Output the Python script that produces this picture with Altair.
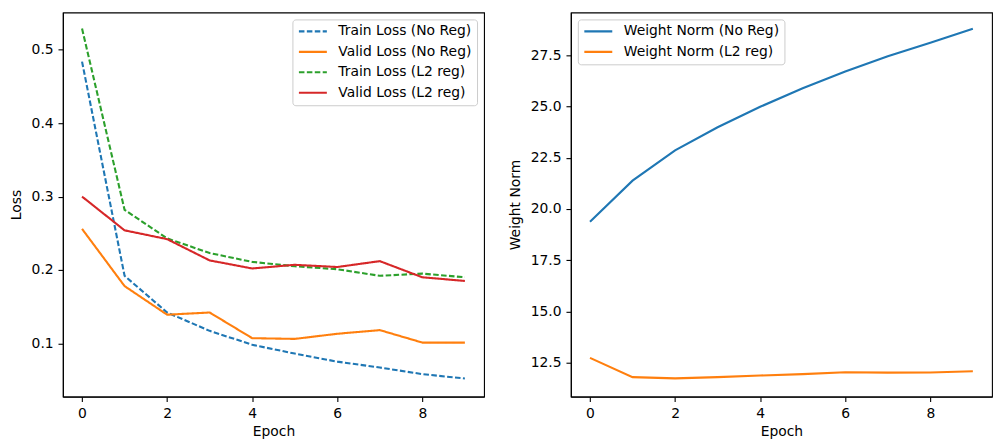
import altair as alt
import pandas as pd

epochs = list(range(10))

train_noreg = [0.484, 0.192, 0.142, 0.117, 0.098, 0.086, 0.075, 0.067, 0.058, 0.052]
valid_noreg = [0.256, 0.178, 0.139, 0.142, 0.107, 0.106, 0.113, 0.118, 0.101, 0.101]
train_l2 = [0.529, 0.282, 0.243, 0.223, 0.211, 0.205, 0.201, 0.192, 0.195, 0.190]
valid_l2 = [0.300, 0.254, 0.242, 0.213, 0.202, 0.207, 0.204, 0.212, 0.190, 0.185]

wnorm_noreg = [19.38, 21.38, 22.86, 23.98, 24.98, 25.88, 26.70, 27.44, 28.10, 28.78]
wnorm_l2 = [12.74, 11.80, 11.74, 11.80, 11.88, 11.95, 12.04, 12.02, 12.03, 12.09]

loss_names = ["Train Loss (No Reg)", "Valid Loss (No Reg)", "Train Loss (L2 reg)", "Valid Loss (L2 reg)"]
loss_series = [train_noreg, valid_noreg, train_l2, valid_l2]
loss_colors = ["#1f77b4", "#ff7f0e", "#2ca02c", "#d62728"]
loss_dashes = [[5.55, 2.4], [1, 0], [5.55, 2.4], [1, 0]]

norm_names = ["Weight Norm (No Reg)", "Weight Norm (L2 reg)"]
norm_series = [wnorm_noreg, wnorm_l2]
norm_colors = ["#1f77b4", "#ff7f0e"]

loss_df = pd.DataFrame([
    {"epoch": e, "value": v, "series": n, "order": i}
    for i, (n, s) in enumerate(zip(loss_names, loss_series))
    for e, v in zip(epochs, s)
])
norm_df = pd.DataFrame([
    {"epoch": e, "value": v, "series": n, "order": i}
    for i, (n, s) in enumerate(zip(norm_names, norm_series))
    for e, v in zip(epochs, s)
])

FS = 13.9

def legend(orient):
    return alt.Legend(
        title=None, orient=orient, offset=7, symbolType="stroke",
        symbolSize=784, symbolStrokeWidth=2.1, clipHeight=14,
        labelFontSize=FS, labelFont="DejaVu Sans", labelColor="black",
        labelOffset=10, labelLimit=400, rowPadding=6.5, padding=5,
        strokeColor="#cccccc", fillColor="rgba(255,255,255,0.8)",
        cornerRadius=3,
    )

xaxis = alt.Axis(values=[0, 2, 4, 6, 8], format="d", title="Epoch", titlePadding=4)

left = alt.Chart(loss_df).mark_line(strokeWidth=2.1, clip=True).encode(
    x=alt.X("epoch:Q", scale=alt.Scale(domain=[-0.45, 9.45], nice=False, zero=False), axis=xaxis),
    y=alt.Y("value:Q", scale=alt.Scale(domain=[0.0273, 0.551], nice=False, zero=False),
            axis=alt.Axis(values=[0.1, 0.2, 0.3, 0.4, 0.5], format=".1f", title="Loss", titlePadding=8)),
    color=alt.Color("series:N", scale=alt.Scale(domain=loss_names, range=loss_colors), legend=legend("top-right")),
    strokeDash=alt.StrokeDash("series:N", scale=alt.Scale(domain=loss_names, range=loss_dashes), legend=legend("top-right")),
    order="order:Q",
).properties(width=422, height=385)

right = alt.Chart(norm_df).mark_line(strokeWidth=2.1, clip=True).encode(
    x=alt.X("epoch:Q", scale=alt.Scale(domain=[-0.45, 9.45], nice=False, zero=False), axis=xaxis),
    y=alt.Y("value:Q", scale=alt.Scale(domain=[10.85, 29.58], nice=False, zero=False),
            axis=alt.Axis(values=[12.5, 15.0, 17.5, 20.0, 22.5, 25.0, 27.5], format=".1f", title="Weight Norm", titlePadding=8)),
    color=alt.Color("series:N", scale=alt.Scale(domain=norm_names, range=norm_colors), legend=legend("top-left")),
    order="order:Q",
).properties(width=422, height=385)

chart = alt.hconcat(left, right, spacing=22).resolve_scale(
    color="independent", strokeDash="independent"
).resolve_legend(color="independent", strokeDash="independent").properties(
    padding={"left": 0, "top": 3, "right": 0, "bottom": 0}, background="white"
).configure_view(stroke="black", strokeWidth=1.1).configure_axis(
    grid=False, domainColor="black", domainWidth=1.1, tickColor="black", tickWidth=1.1,
    tickSize=4.9, labelPadding=4.9, labelFontSize=FS, labelFont="DejaVu Sans", labelColor="black",
    titleFontSize=FS, titleFont="DejaVu Sans", titleFontWeight="normal", titleColor="black",
)

chart.save("out.html", embed_options={"renderer": "svg", "actions": False})
